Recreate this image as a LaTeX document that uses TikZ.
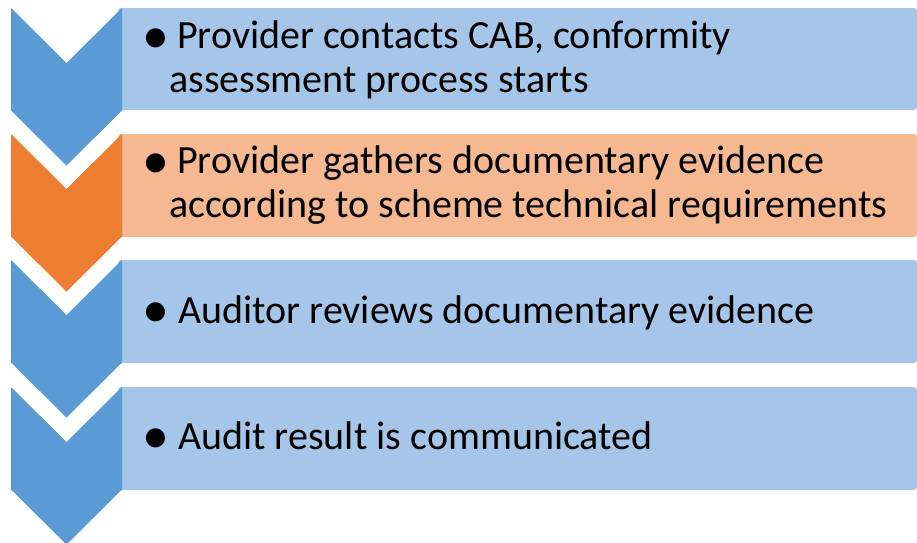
\documentclass[tikz,border=0pt]{standalone}
\usepackage{fontspec}
\setmainfont{Carlito}
\definecolor{chevblue}{HTML}{5B9BD5}
\definecolor{chevorange}{HTML}{ED7D31}
\definecolor{boxblue}{HTML}{A5C6E8}
\definecolor{boxorange}{HTML}{F5B890}
\begin{document}
\begin{tikzpicture}[x=1pt,y=-1pt,
  txt/.style={anchor=base west,inner sep=0pt,font=\fontsize{40}{48}\selectfont,text=black},
  bul/.style={anchor=center,inner sep=0pt,font=\fontsize{54}{60}\selectfont,text=black},
  stepbar/.style={rounded corners=3pt}]
\useasboundingbox (0,0) rectangle (917,542);
% boxes
\fill[boxblue,stepbar] (118,8) rectangle (917,110);
\fill[boxorange,stepbar] (118,134) rectangle (917,237);
\fill[boxblue,stepbar] (118,260) rectangle (917,363);
\fill[boxblue,stepbar] (118,387) rectangle (917,490);
% chevrons: top y, height 102, notch 55
\foreach \t/\c in {8/chevblue,134/chevorange,260/chevblue,387/chevblue}{
  \fill[\c] (11,\t) -- (66.5,\t+55) -- (122,\t) -- (122,\t+102.5) -- (66.5,\t+157.5) -- (11,\t+102.5) -- cycle;
}
% texts
\node[bul] (b1) at (156,41) {•};
\node[txt] (t1a) at (177,48) {Provider contacts CAB, conformity};
\node[txt] (t1b) at (169,92) {assessment process starts};
\node[bul] (b2) at (156,166) {•};
\node[txt] (t2a) at (177,173) {Provider gathers documentary evidence};
\node[txt] (t2b) at (169,217) {according to scheme technical requirements};
\node[bul] (b3) at (156,315) {•};
\node[txt] (t3) at (178,323) {Auditor reviews documentary evidence};
\node[bul] (b4) at (156,441) {•};
\node[txt] (t4) at (178,449) {Audit result is communicated};
\end{tikzpicture}
\end{document}
